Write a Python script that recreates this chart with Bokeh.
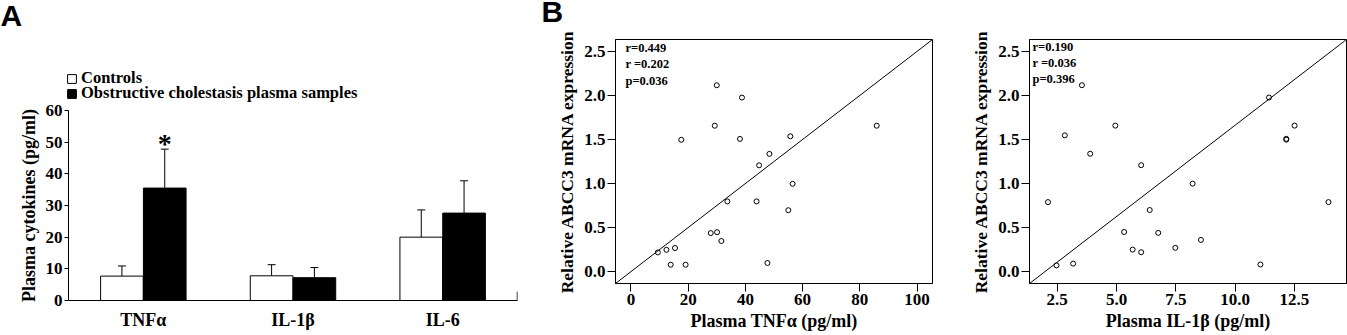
from bokeh.plotting import figure
from bokeh.layouts import row, column
from bokeh.models import (Range1d, FixedTicker, Whisker, TeeHead, ColumnDataSource,
                          Label, Legend, LegendItem, NumeralTickFormatter)
from bokeh.embed import file_html
from bokeh.resources import INLINE

# ---------------- data ----------------
cytokines = ["TNFα", "IL-1β", "IL-6"]
control_mean = [7.7, 7.8, 20.0]
control_err = [3.2, 3.5, 8.6]
oc_mean = [35.5, 7.2, 27.6]
oc_err = [12.3, 3.2, 10.2]
series_names = ["Controls", "Obstructive cholestasis plasma samples"]

tnf_x = [9.4, 12.4, 13.9, 15.4, 19.1, 17.6, 27.9, 30.1, 31.6, 29.3, 30.0,
         33.7, 38.1, 38.8, 43.9, 44.8, 47.7, 48.4, 55.0, 55.7, 56.5, 85.9]
tnf_y = [0.22, 0.25, 0.08, 0.27, 0.08, 1.50, 0.44, 0.45, 0.35, 1.66, 2.12,
         0.80, 1.51, 1.98, 0.80, 1.21, 0.10, 1.34, 0.70, 1.54, 1.00, 1.66]

il1b_x = [2.11, 2.47, 2.82, 3.17, 3.54, 3.89, 4.95, 5.32, 5.68, 6.04, 6.04,
          6.40, 6.76, 7.48, 8.21, 8.56, 11.07, 11.43, 12.16, 12.16, 12.51, 13.94]
il1b_y = [0.79, 0.07, 1.55, 0.09, 2.12, 1.34, 1.66, 0.45, 0.25, 1.21, 0.22,
          0.70, 0.44, 0.27, 1.00, 0.36, 0.08, 1.98, 1.50, 1.51, 1.66, 0.79]

stats_tnf = ["r=0.449", "r =0.202", "p=0.036"]
stats_il1b = ["r=0.190", "r =0.036", "p=0.396"]

bar_ticks = [0, 10, 20, 30, 40, 50, 60]
tnf_ticks = [0, 20, 40, 60, 80, 100]
il1b_ticks = [2.5, 5.0, 7.5, 10.0, 12.5]
expr_ticks = [0.0, 0.5, 1.0, 1.5, 2.0, 2.5]

# ---------------- styles ----------------
SERIF = "Liberation Serif"
SANS = "Liberation Sans"
TICK_FS = "17px"


def style_axis(ax, tick_out, label_fs):
    ax.axis_line_color = "black"
    ax.major_tick_line_color = "black"
    ax.major_tick_out = tick_out
    ax.major_tick_in = 0
    ax.minor_tick_line_color = None
    ax.major_label_text_font = SERIF
    ax.major_label_text_font_style = "bold"
    ax.major_label_text_font_size = TICK_FS
    ax.major_label_text_color = "black"
    ax.axis_label_text_font = SERIF
    ax.axis_label_text_font_style = "bold"
    ax.axis_label_text_font_size = label_fs
    ax.axis_label_text_color = "black"


def blank_fig(width, height):
    p = figure(width=width, height=height, x_range=Range1d(0, 1), y_range=Range1d(0, 1),
               output_backend="svg", toolbar_location=None,
               x_axis_location=None, y_axis_location=None,
               min_border_left=0, min_border_right=0, min_border_top=0, min_border_bottom=0)
    p.outline_line_color = None
    p.grid.visible = False
    return p


def panel_letter(p, letter, x, y):
    p.add_layout(Label(x=x, y=y, x_units="screen", y_units="screen",
                       text=letter, text_baseline="alphabetic", text_align="left",
                       text_font=SANS, text_font_style="bold", text_font_size="30px",
                       text_color="black"))


# ---------------- panel A : header (letter + legend) ----------------
TOP_A = 104
pAtop = blank_fig(540, TOP_A)
panel_letter(pAtop, "A", 0, TOP_A - 15)
fills = ["white", "black"]
for i, (name, fc) in enumerate(zip(series_names, fills)):
    # legend swatch: a hidden bar styled like the series (only its legend glyph shows)
    swatch = pAtop.vbar(x=[0.5], top=[0.6], bottom=[0.4], width=0.1, fill_color=fc,
                        line_color="black", line_width=1, visible=False)
    lg = Legend(items=[LegendItem(label=name, renderers=[swatch])],
                location=(66, 16 - 15 * i), padding=0, margin=0, spacing=0,
                glyph_width=11, glyph_height=11, label_height=11, label_standoff=4,
                border_line_color=None, background_fill_alpha=0,
                inactive_fill_alpha=0,
                label_text_font=SERIF, label_text_font_style="bold",
                label_text_font_size="16.5px", label_text_color="black")
    pAtop.add_layout(lg, "center")

# ---------------- panel A : bars ----------------
pA = figure(width=540, height=335 - TOP_A, x_range=Range1d(0, 3), y_range=Range1d(0, 60),
            output_backend="svg", toolbar_location=None,
            min_border_left=68, min_border_right=23, min_border_top=110 - TOP_A,
            min_border_bottom=35)
pA.outline_line_color = None
pA.grid.visible = False

off = 0.143
bw = 0.285
ctrl_x = [i + 0.5 - off for i in range(len(cytokines))]
oc_x = [i + 0.5 + off for i in range(len(cytokines))]

pA.vbar(x=ctrl_x, top=control_mean, width=bw, bottom=0,
        fill_color=fills[0], line_color="black", line_width=1)
pA.vbar(x=oc_x, top=oc_mean, width=bw, bottom=0,
        fill_color=fills[1], line_color="black", line_width=1)

err_src = ColumnDataSource(dict(
    x=ctrl_x + oc_x,
    lower=control_mean + oc_mean,
    upper=[m + e for m, e in zip(control_mean, control_err)] + [m + e for m, e in zip(oc_mean, oc_err)],
))
pA.add_layout(Whisker(source=err_src, base="x", lower="lower", upper="upper",
                      dimension="height", line_color="black", line_width=1,
                      lower_head=None, upper_head=TeeHead(size=8, line_color="black", line_width=1)))

# right end tick of the x axis
pA.segment(x0=[3], y0=[0], x1=[3], y1=[2.8], line_color="black", line_width=1.5)

pA.xaxis.ticker = FixedTicker(ticks=[i + 0.5 for i in range(len(cytokines))])
pA.xaxis.major_label_overrides = {i + 0.5: c for i, c in enumerate(cytokines)}
style_axis(pA.xaxis[0], 0, "18px")
pA.xaxis.major_label_text_font_size = "18px"
pA.xaxis.major_label_standoff = 9

pA.yaxis.ticker = FixedTicker(ticks=bar_ticks)
style_axis(pA.yaxis[0], 4, "18px")
pA.yaxis.major_label_standoff = 2
pA.yaxis.axis_label = "Plasma cytokines (pg/ml)"
pA.yaxis.axis_label_standoff = 4

# significance star
pA.add_layout(Label(x=oc_x[0], y=oc_mean[0] + oc_err[0], text="*", text_align="center",
                    text_baseline="alphabetic", text_font=SERIF, text_font_style="bold",
                    text_font_size="28px", y_offset=6, text_color="black"))


# ---------------- panel B ----------------
def scatter_panel(xs, ys, xr, yr, xticks, xfmt, xlabel, stats, width, height, left, right,
                  top, stat_dx, stat_top):
    p = figure(width=width, height=height, x_range=Range1d(*xr), y_range=Range1d(*yr),
               output_backend="svg", toolbar_location=None,
               min_border_left=left, min_border_right=right,
               min_border_top=top, min_border_bottom=52)
    p.grid.visible = False
    p.outline_line_color = "black"
    p.outline_line_width = 1
    p.outline_line_alpha = 1
    p.line(x=list(xr), y=list(yr), line_color="black", line_width=1)
    p.scatter(x=xs, y=ys, size=5, marker="circle", fill_color=None,
              line_color="black", line_width=1)
    p.xaxis.ticker = FixedTicker(ticks=xticks)
    p.xaxis.formatter = NumeralTickFormatter(format=xfmt)
    p.yaxis.ticker = FixedTicker(ticks=expr_ticks)
    p.yaxis.formatter = NumeralTickFormatter(format="0.0")
    style_axis(p.xaxis[0], 8, "18px")
    style_axis(p.yaxis[0], 8, "17.5px")
    p.xaxis.major_label_standoff = 2
    p.yaxis.major_label_standoff = 2
    p.xaxis.axis_label = xlabel
    p.xaxis.axis_label_standoff = 3
    p.yaxis.axis_label = "Relative ABCC3 mRNA expression"
    p.yaxis.axis_label_standoff = 4
    frame_h = height - top - 52
    for k, s in enumerate(stats):
        p.add_layout(Label(x=stat_dx, y=frame_h - (stat_top + 16.3 * k), x_units="screen",
                           y_units="screen", text=s, text_baseline="middle",
                           text_align="left", text_font=SERIF, text_font_style="bold",
                           text_font_size="12.5px", text_color="black"))
    return p


TOP_B = 30
pBtop = blank_fig(415, TOP_B)
panel_letter(pBtop, "B", 1, TOP_B - 11)

pB1 = scatter_panel(tnf_x, tnf_y, (-5.4, 105.4), (-0.133, 2.64), tnf_ticks, "0",
                    "Plasma TNFα (pg/ml)", stats_tnf, 415, 335 - TOP_B, 75, 23, 39 - TOP_B,
                    10, 8.5)
pB2 = scatter_panel(il1b_x, il1b_y, (1.33, 14.7), (-0.136, 2.64), il1b_ticks, "0.0",
                    "Plasma IL-1β (pg/ml)", stats_il1b, 392, 335, 74, 1, 39, 3, 7)

layout = row(column(column(pAtop), column(pA)),
             column(column(pBtop), column(pB1)),
             column(pB2))
open("out.html", "w").write(file_html(layout, INLINE))
